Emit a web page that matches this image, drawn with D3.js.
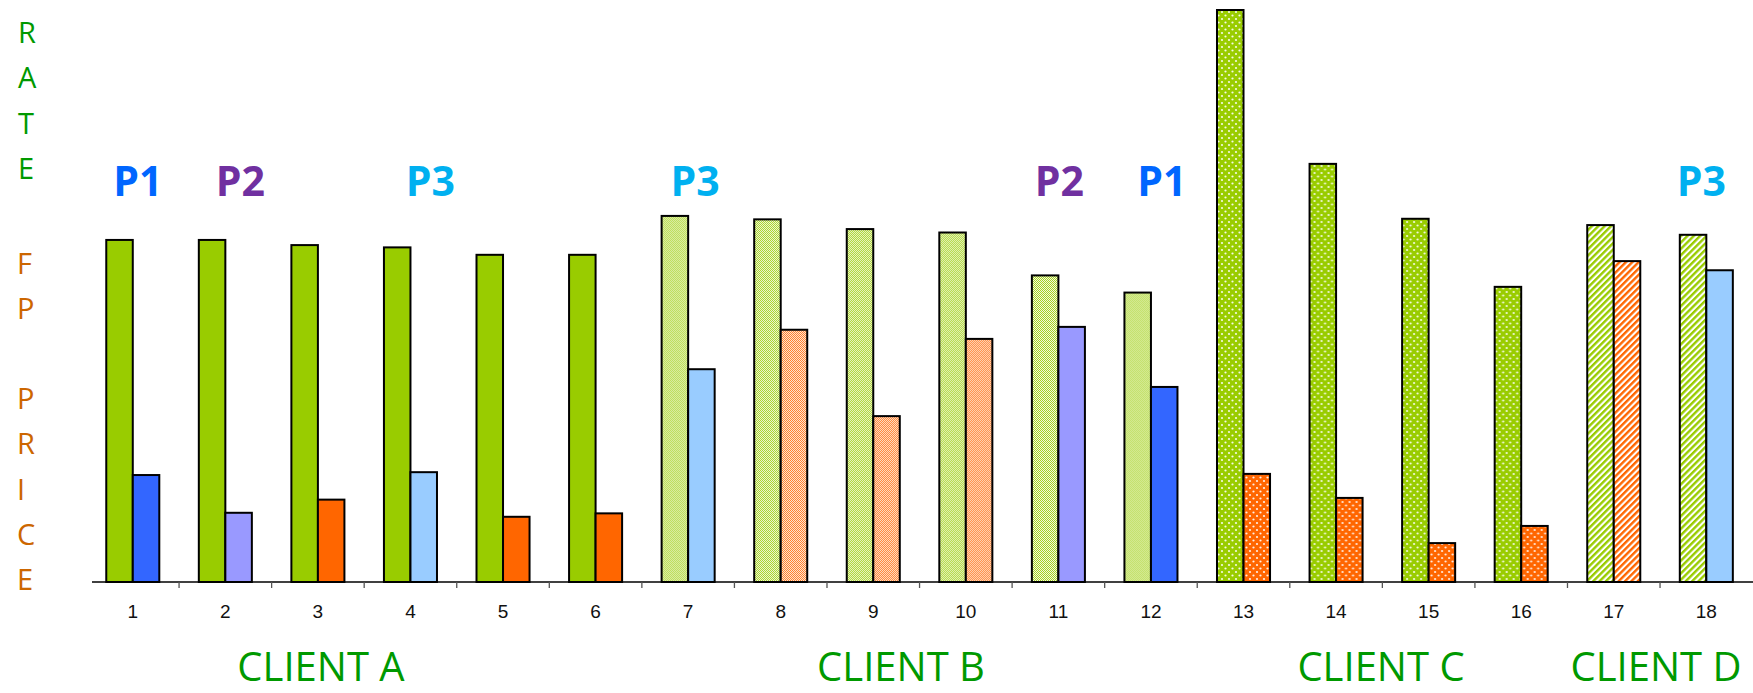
<!DOCTYPE html>
<html>
<head>
<meta charset="utf-8">
<script src="https://cdn.jsdelivr.net/npm/d3@7"></script>
<style>
  html, body { margin: 0; padding: 0; background: #ffffff; }
  svg { display: block; }
</style>
</head>
<body>
<svg id="chart" width="1753" height="693"></svg>
<script>
// ---------- DATA ----------
const categories = ["1","2","3","4","5","6","7","8","9","10","11","12","13","14","15","16","17","18"];
const rateValues  = [59.8, 59.8, 58.9, 58.5, 57.2, 57.2, 64.0, 63.4, 61.7, 61.1, 53.6, 50.6, 100, 73.1, 63.5, 51.6, 62.4, 60.7];
const priceValues = [18.7, 12.1, 14.4, 19.2, 11.4, 12.0, 37.2, 44.1, 29.0, 42.5, 44.6, 34.1, 18.9, 14.7, 6.8, 9.8, 56.1, 54.5];
const clients     = ["A","A","A","A","A","A","B","B","B","B","B","B","C","C","C","C","D","D"];
const priceProduct = ["P1","P2","FP","P3","FP","FP","P3","FP","FP","FP","P2","P1","FP","FP","FP","FP","FP","P3"];
const clientNames = ["CLIENT A","CLIENT B","CLIENT C","CLIENT D"];
const productLabels = [
  {cat:"1",  text:"P1"}, {cat:"2",  text:"P2"}, {cat:"4",  text:"P3"},
  {cat:"7",  text:"P3"}, {cat:"11", text:"P2"}, {cat:"12", text:"P1"}, {cat:"18", text:"P3"}
];
const rateLetters  = ["R","A","T","E"];
const priceLetters = ["F","P"," ","P","R","I","C","E"];

// ---------- STYLE / LAYOUT ----------
const GREEN = "#99CC00", ORANGE = "#FF6600";
const productColor = {P1:"#3366FF", P2:"#9999FF", P3:"#99CCFF", FP:ORANGE};
const labelColor   = {P1:"#0066FF", P2:"#7030A0", P3:"#00B0F0"};
const labelDx      = [5, 15, 20, 7, 1, 11, -5];
const clientPattern = {A:"solid", B:"chk", C:"dot", D:"str"};
const clientCenterX = {"CLIENT A":321, "CLIENT B":901, "CLIENT C":1381, "CLIENT D":1656};

const baseY = 582;
const svg = d3.select("#chart");
const defs = svg.append("defs");

function makePatterns(name, color) {
  // checker
  const c = defs.append("pattern").attr("id", "chk-" + name)
    .attr("patternUnits", "userSpaceOnUse").attr("width", 2).attr("height", 2);
  c.append("rect").attr("width", 2).attr("height", 2).attr("fill", "#ffffff");
  c.append("rect").attr("x", 0).attr("y", 0).attr("width", 1).attr("height", 1).attr("fill", color);
  c.append("rect").attr("x", 1).attr("y", 1).attr("width", 1).attr("height", 1).attr("fill", color);
  // dots
  const d = defs.append("pattern").attr("id", "dot-" + name)
    .attr("patternUnits", "userSpaceOnUse").attr("width", 7).attr("height", 7);
  d.append("rect").attr("width", 7).attr("height", 7).attr("fill", color);
  d.append("circle").attr("cx", 1.5).attr("cy", 1.5).attr("r", 1.1).attr("fill", "#ffffff").attr("opacity", 0.9);
  d.append("circle").attr("cx", 5).attr("cy", 5).attr("r", 1.1).attr("fill", "#ffffff").attr("opacity", 0.9);
  // stripes
  const s = defs.append("pattern").attr("id", "str-" + name)
    .attr("patternUnits", "userSpaceOnUse").attr("width", 4.5).attr("height", 4.5)
    .attr("patternTransform", "rotate(45)");
  s.append("rect").attr("width", 4.5).attr("height", 4.5).attr("fill", "#ffffff");
  s.append("rect").attr("width", 2.4).attr("height", 4.5).attr("fill", color);
}
makePatterns("green", GREEN);
makePatterns("orange", ORANGE);

// ---------- SCALES ----------
const x0 = d3.scaleBand().domain(categories).range([86.5, 1752.6])
  .paddingInner(0.427).paddingOuter(0.2135);
const x1 = d3.scaleBand().domain(["rate","price"]).range([0, x0.bandwidth()]);
const y = d3.scaleLinear().domain([0, 100]).range([baseY, 10]);

const rows = categories.map((c, i) => ({
  cat: c, rate: rateValues[i], price: priceValues[i], client: clients[i], product: priceProduct[i]
}));

function rateFill(d) {
  const p = clientPattern[d.client];
  return p === "solid" ? GREEN : `url(#${p}-green)`;
}
function priceFill(d) {
  if (d.product !== "FP") return productColor[d.product];
  const p = clientPattern[d.client];
  return p === "solid" ? ORANGE : `url(#${p}-orange)`;
}

// ---------- BARS ----------
const g = svg.append("g");
const groups = g.selectAll("g.grp").data(rows).join("g")
  .attr("class", "grp")
  .attr("transform", d => `translate(${x0(d.cat)},0)`);

groups.append("rect")
  .attr("x", x1("rate")).attr("width", x1.bandwidth())
  .attr("y", d => y(d.rate)).attr("height", d => baseY - y(d.rate))
  .attr("fill", rateFill).attr("stroke", "#000").attr("stroke-width", 2);

groups.append("rect")
  .attr("x", x1("price")).attr("width", x1.bandwidth())
  .attr("y", d => y(d.price)).attr("height", d => baseY - y(d.price))
  .attr("fill", priceFill).attr("stroke", "#000").attr("stroke-width", 2);

// ---------- AXIS ----------
const axisG = svg.append("g").attr("transform", `translate(0,${baseY})`);
axisG.append("line").attr("x1", 92).attr("x2", 1753).attr("y1", 0).attr("y2", 0)
  .attr("stroke", "#000").attr("stroke-width", 1.5);
const boundaries = categories.slice(1).map(c => x0(c) - (x0.step() - x0.bandwidth()) / 2);
axisG.selectAll("line.tick").data(boundaries).join("line")
  .attr("class", "tick")
  .attr("x1", d => d).attr("x2", d => d).attr("y1", 0).attr("y2", 6)
  .attr("stroke", "#555").attr("stroke-width", 1.3);
axisG.selectAll("text.lbl").data(categories).join("text")
  .attr("class", "lbl")
  .attr("x", d => x0(d) + x0.bandwidth() / 2)
  .attr("y", 36)
  .attr("text-anchor", "middle")
  .attr("font-family", "'Liberation Sans', Arial, sans-serif")
  .attr("font-size", 19)
  .attr("fill", "#111")
  .text(d => d);

// ---------- VERTICAL AXIS TITLES ----------
svg.selectAll("text.rate").data(rateLetters).join("text")
  .attr("class", "rate")
  .attr("x", 18).attr("y", (d, i) => 43 + i * 45.3)
  .attr("font-family", "'Open Sans', sans-serif").attr("font-size", 29)
  .attr("fill", "#009900").text(d => d);
svg.selectAll("text.price").data(priceLetters).join("text")
  .attr("class", "price")
  .attr("x", 17).attr("y", (d, i) => 274 + i * 45.1)
  .attr("font-family", "'Open Sans', sans-serif").attr("font-size", 29)
  .attr("fill", "#CC6600").text(d => d);

// ---------- PRODUCT LABELS ----------
svg.selectAll("text.prod").data(productLabels).join("text")
  .attr("class", "prod")
  .attr("x", (d, i) => x0(d.cat) + x0.bandwidth() / 2 + labelDx[i])
  .attr("y", 196)
  .attr("text-anchor", "middle")
  .attr("font-family", "'Open Sans', sans-serif").attr("font-weight", 700).attr("font-size", 41)
  .attr("fill", d => labelColor[d.text])
  .text(d => d.text);

// ---------- CLIENT LABELS ----------
svg.selectAll("text.client").data(clientNames).join("text")
  .attr("class", "client")
  .attr("x", d => clientCenterX[d])
  .attr("y", 681)
  .attr("text-anchor", "middle")
  .attr("font-family", "'Open Sans', sans-serif").attr("font-size", 40)
  .attr("fill", "#009900")
  .text(d => d);
</script>
</body>
</html>
